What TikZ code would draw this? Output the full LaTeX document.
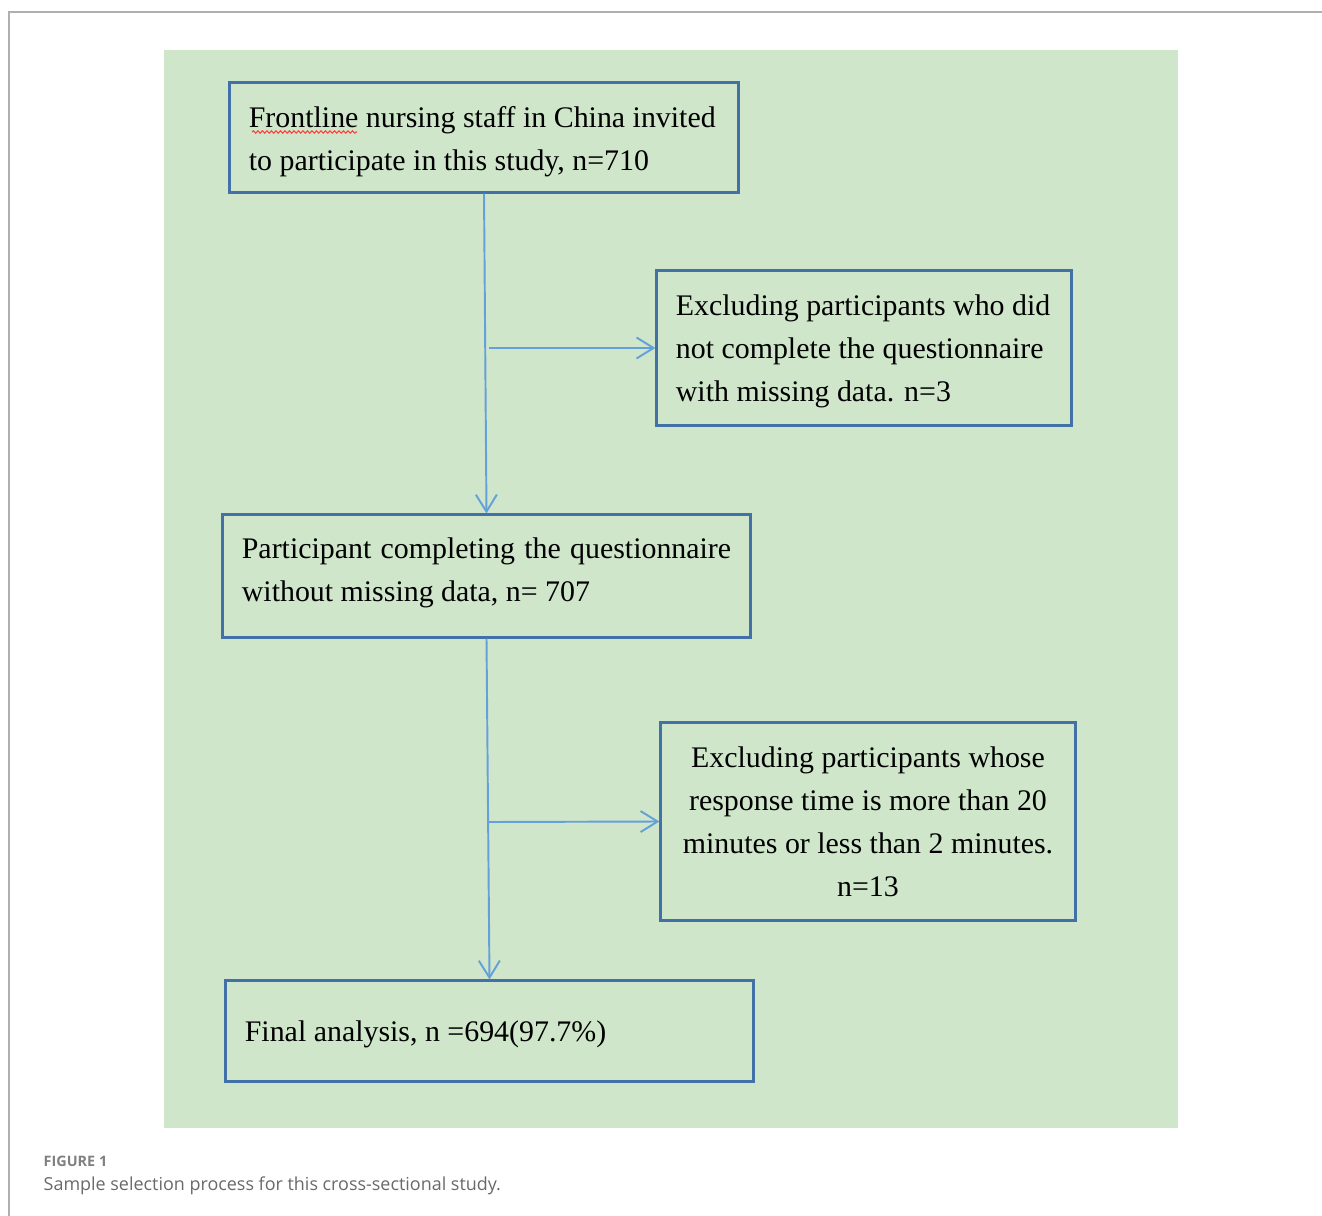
\documentclass[tikz,border=0pt]{standalone}
\usepackage{fontspec}
\setmainfont{Liberation Serif}
\newfontfamily\capfont{Open Sans}
\usetikzlibrary{arrows.meta,positioning,decorations.pathmorphing}

\definecolor{bggreen}{RGB}{207,230,203}
\definecolor{boxblue}{RGB}{65,113,166}
\definecolor{flowblue}{RGB}{100,160,218}
\definecolor{framegray}{RGB}{175,175,175}
\definecolor{capgray}{RGB}{105,105,105}
\newcommand{\boxfont}{\fontsize{8.5}{12.2}\selectfont}
\newcommand{\topstrut}[1]{\rule{0pt}{#1}}
\newcommand{\botstrut}[1]{\rule[-#1]{0pt}{#1}}
\tikzset{box/.style={rectangle,draw=boxblue,line width=0.85pt,inner xsep=0.19cm,inner ysep=0pt,font=\boxfont},
	flow/.style={draw=flowblue,line width=0.55pt,-{Straight Barb[length=0.17cm,width=0.21cm]}}}

\begin{document}
\begin{tikzpicture}[x=0.01cm,y=-0.01cm]
	%%page and frame
	\useasboundingbox (0,0) rectangle (1322,1216);
	\draw [framegray,line width=0.6pt] (1322,12) -- (9,12) -- (9,1216);
	%%green panel
	\fill [bggreen] (164,50) rectangle (1178,1128);
	%%boxes
	\node [box,minimum width=5.08cm,minimum height=1.09cm,text width=4.70cm,align=flush left] (invited) at (484,137.5)
		{\topstrut{0.3cm}Frontline nursing staff in China invited\\to participate in this study, n=710};
	\node [box,minimum width=4.14cm,minimum height=1.54cm,text width=3.76cm,align=flush left] (excl1) at (864,348)
		{\topstrut{0.27cm}Excluding participants who did\\not complete the questionnaire\\with missing data. n=3};
	\node [box,minimum width=5.27cm,minimum height=1.22cm,text width=4.89cm,align=justify] (complete) at (486.5,576)
		{Participant completing the questionnaire without missing data, n=~707\botstrut{0.13cm}};
	\node [box,minimum width=4.14cm,minimum height=1.97cm,text width=3.76cm,align=flush center] (excl2) at (868,821.5)
		{Excluding participants whose\\response time is more than 20\\minutes or less than 2 minutes.\\n=13};
	\node [box,minimum width=5.27cm,minimum height=1.0cm,text width=4.89cm,align=flush left] (final) at (489.5,1031)
		{\topstrut{0.28cm}Final analysis, n =694(97.7\%)};
	%%spell-check mark
	\draw [red!75,line width=0.3pt,decorate,decoration={snake,amplitude=0.012cm,segment length=0.045cm}] (252,132) -- (357,132);
	%%flow
	\draw [flow] (invited.south) -- (complete.north);
	\coordinate (split1) at (489,348);
	\draw [flow] (split1) -- (excl1.west);
	\draw [flow] (complete.south) -- (final.north);
	\coordinate (split2) at (489,822);
	\draw [flow] (split2) -- (excl2.west);
	%%caption
	\node [anchor=base west,inner sep=0pt,font=\capfont\bfseries\fontsize{4.1}{5}\selectfont,text=capgray!85] (fignum) at (43,1166) {FIGURE 1};
	\node [anchor=base west,inner sep=0pt,font=\capfont\fontsize{5.1}{6}\selectfont,text=capgray] (caption) at (43,1190) {Sample selection process for this cross-sectional study.};
\end{tikzpicture}
\end{document}
